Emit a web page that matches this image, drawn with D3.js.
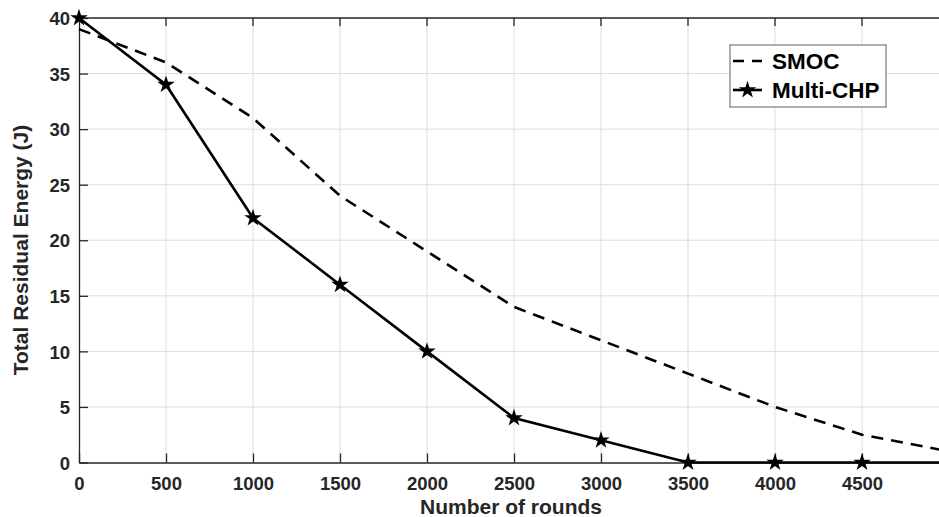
<!DOCTYPE html>
<html><head><meta charset="utf-8">
<script src="https://cdn.jsdelivr.net/npm/d3@7"></script>
<style>body{margin:0;background:#fff}svg{display:block}</style>
</head><body>
<svg id="c" width="939" height="517"></svg>
<script>
const rounds = [0,500,1000,1500,2000,2500,3000,3500,4000,4500,5000];
const smoc = [39,36,31,24,19,14,11,8,5,2.5,1];
const multiCHP = [40,34,22,16,10,4,2,0,0,0,0];
const xTicks = [0,500,1000,1500,2000,2500,3000,3500,4000,4500];
const yTicks = [0,5,10,15,20,25,30,35,40];
const seriesNames = ["SMOC","Multi-CHP"];

const svg = d3.select("#c");
const L=79, R=949, T=18, B=462.5;
const x = d3.scaleLinear().domain([0,5000]).range([L,R]);
const y = d3.scaleLinear().domain([0,40]).range([B,T]);
const font = "'Liberation Sans', Arial, Helvetica, sans-serif";
const tc = "#262626";

// grid
svg.append("g").selectAll("line").data(xTicks.slice(1)).join("line")
  .attr("x1",d=>x(d)).attr("x2",d=>x(d)).attr("y1",T).attr("y2",B)
  .attr("stroke","#dedede").attr("stroke-width",1);
svg.append("g").selectAll("line").data(yTicks.slice(1,-1)).join("line")
  .attr("x1",L).attr("x2",R).attr("y1",d=>y(d)).attr("y2",d=>y(d))
  .attr("stroke","#dedede").attr("stroke-width",1);

// axes
const xAxis = d3.axisBottom(x).tickValues(xTicks).tickFormat(d3.format("d")).tickSizeInner(-9).tickSizeOuter(0).tickPadding(14);
const yAxis = d3.axisLeft(y).tickValues(yTicks).tickFormat(d3.format("d")).tickSizeInner(-9).tickSizeOuter(0).tickPadding(14);
const gx = svg.append("g").attr("transform",`translate(0,${B})`).call(xAxis);
const gy = svg.append("g").attr("transform",`translate(${L},0)`).call(yAxis);
[gx,gy].forEach(g=>{
  g.attr("font-size",null).attr("font-family",null);
  g.select(".domain").attr("stroke",tc).attr("stroke-width",1.3);
  g.selectAll(".tick line").attr("stroke",tc).attr("stroke-width",1.3);
  g.selectAll(".tick text").attr("fill",tc).style("font-family",font).style("font-weight","bold").style("font-size","18.5px");
});
gx.selectAll(".tick text").attr("dy","0.71em");
gy.selectAll(".tick text").attr("dx","5").attr("dy","0.36em");
// top border
svg.append("line").attr("x1",L).attr("x2",R).attr("y1",T).attr("y2",T).attr("stroke",tc).attr("stroke-width",1.3);
// top ticks
svg.append("g").selectAll("line").data(xTicks.slice(1)).join("line")
  .attr("x1",d=>x(d)).attr("x2",d=>x(d)).attr("y1",T).attr("y2",T+8).attr("stroke",tc).attr("stroke-width",1.3);

// lines
const line = d3.line().x((d,i)=>x(rounds[i])).y(d=>y(d));
svg.append("path").datum(smoc).attr("d",line).attr("fill","none").attr("stroke","#000")
  .attr("stroke-width",2.6).attr("stroke-dasharray","12,8");
svg.append("path").datum(multiCHP).attr("d",line).attr("fill","none").attr("stroke","#000")
  .attr("stroke-width",2.6);
const star = d3.symbol().type(d3.symbolStar).size(95);
svg.append("g").selectAll("path").data(multiCHP).join("path")
  .attr("d",star).attr("transform",(d,i)=>`translate(${x(rounds[i])},${y(d)})`).attr("fill","#000");

// axis labels
svg.append("text").attr("x",x(2500)-3).attr("y",514).attr("text-anchor","middle")
  .style("font-family",font).style("font-weight","bold").style("font-size","21px").attr("fill",tc).text("Number of rounds");
svg.append("text").attr("transform",`translate(28,250) rotate(-90)`).attr("text-anchor","middle")
  .style("font-family",font).style("font-weight","bold").style("font-size","21px").attr("fill",tc).text("Total Residual Energy (J)");

// legend
const lg = svg.append("g");
lg.append("rect").attr("x",730).attr("y",45).attr("width",156).attr("height",62)
  .attr("fill","#fff").attr("stroke","#7a7a7a").attr("stroke-width",1.2);
lg.append("line").attr("x1",733).attr("x2",762).attr("y1",61).attr("y2",61).attr("stroke","#000")
  .attr("stroke-width",2.6).attr("stroke-dasharray","11,8");
lg.append("line").attr("x1",733).attr("x2",762).attr("y1",90).attr("y2",90).attr("stroke","#000").attr("stroke-width",2.6);
lg.append("path").attr("d",star).attr("transform","translate(747.5,90)").attr("fill","#000");
lg.selectAll("text.l").data(seriesNames).join("text").attr("class","l")
  .attr("x",772).attr("y",(d,i)=>69+i*29).style("font-family",font).style("font-weight","bold")
  .style("font-size","22.5px").attr("fill","#000").text(d=>d);
</script>
</body></html>
